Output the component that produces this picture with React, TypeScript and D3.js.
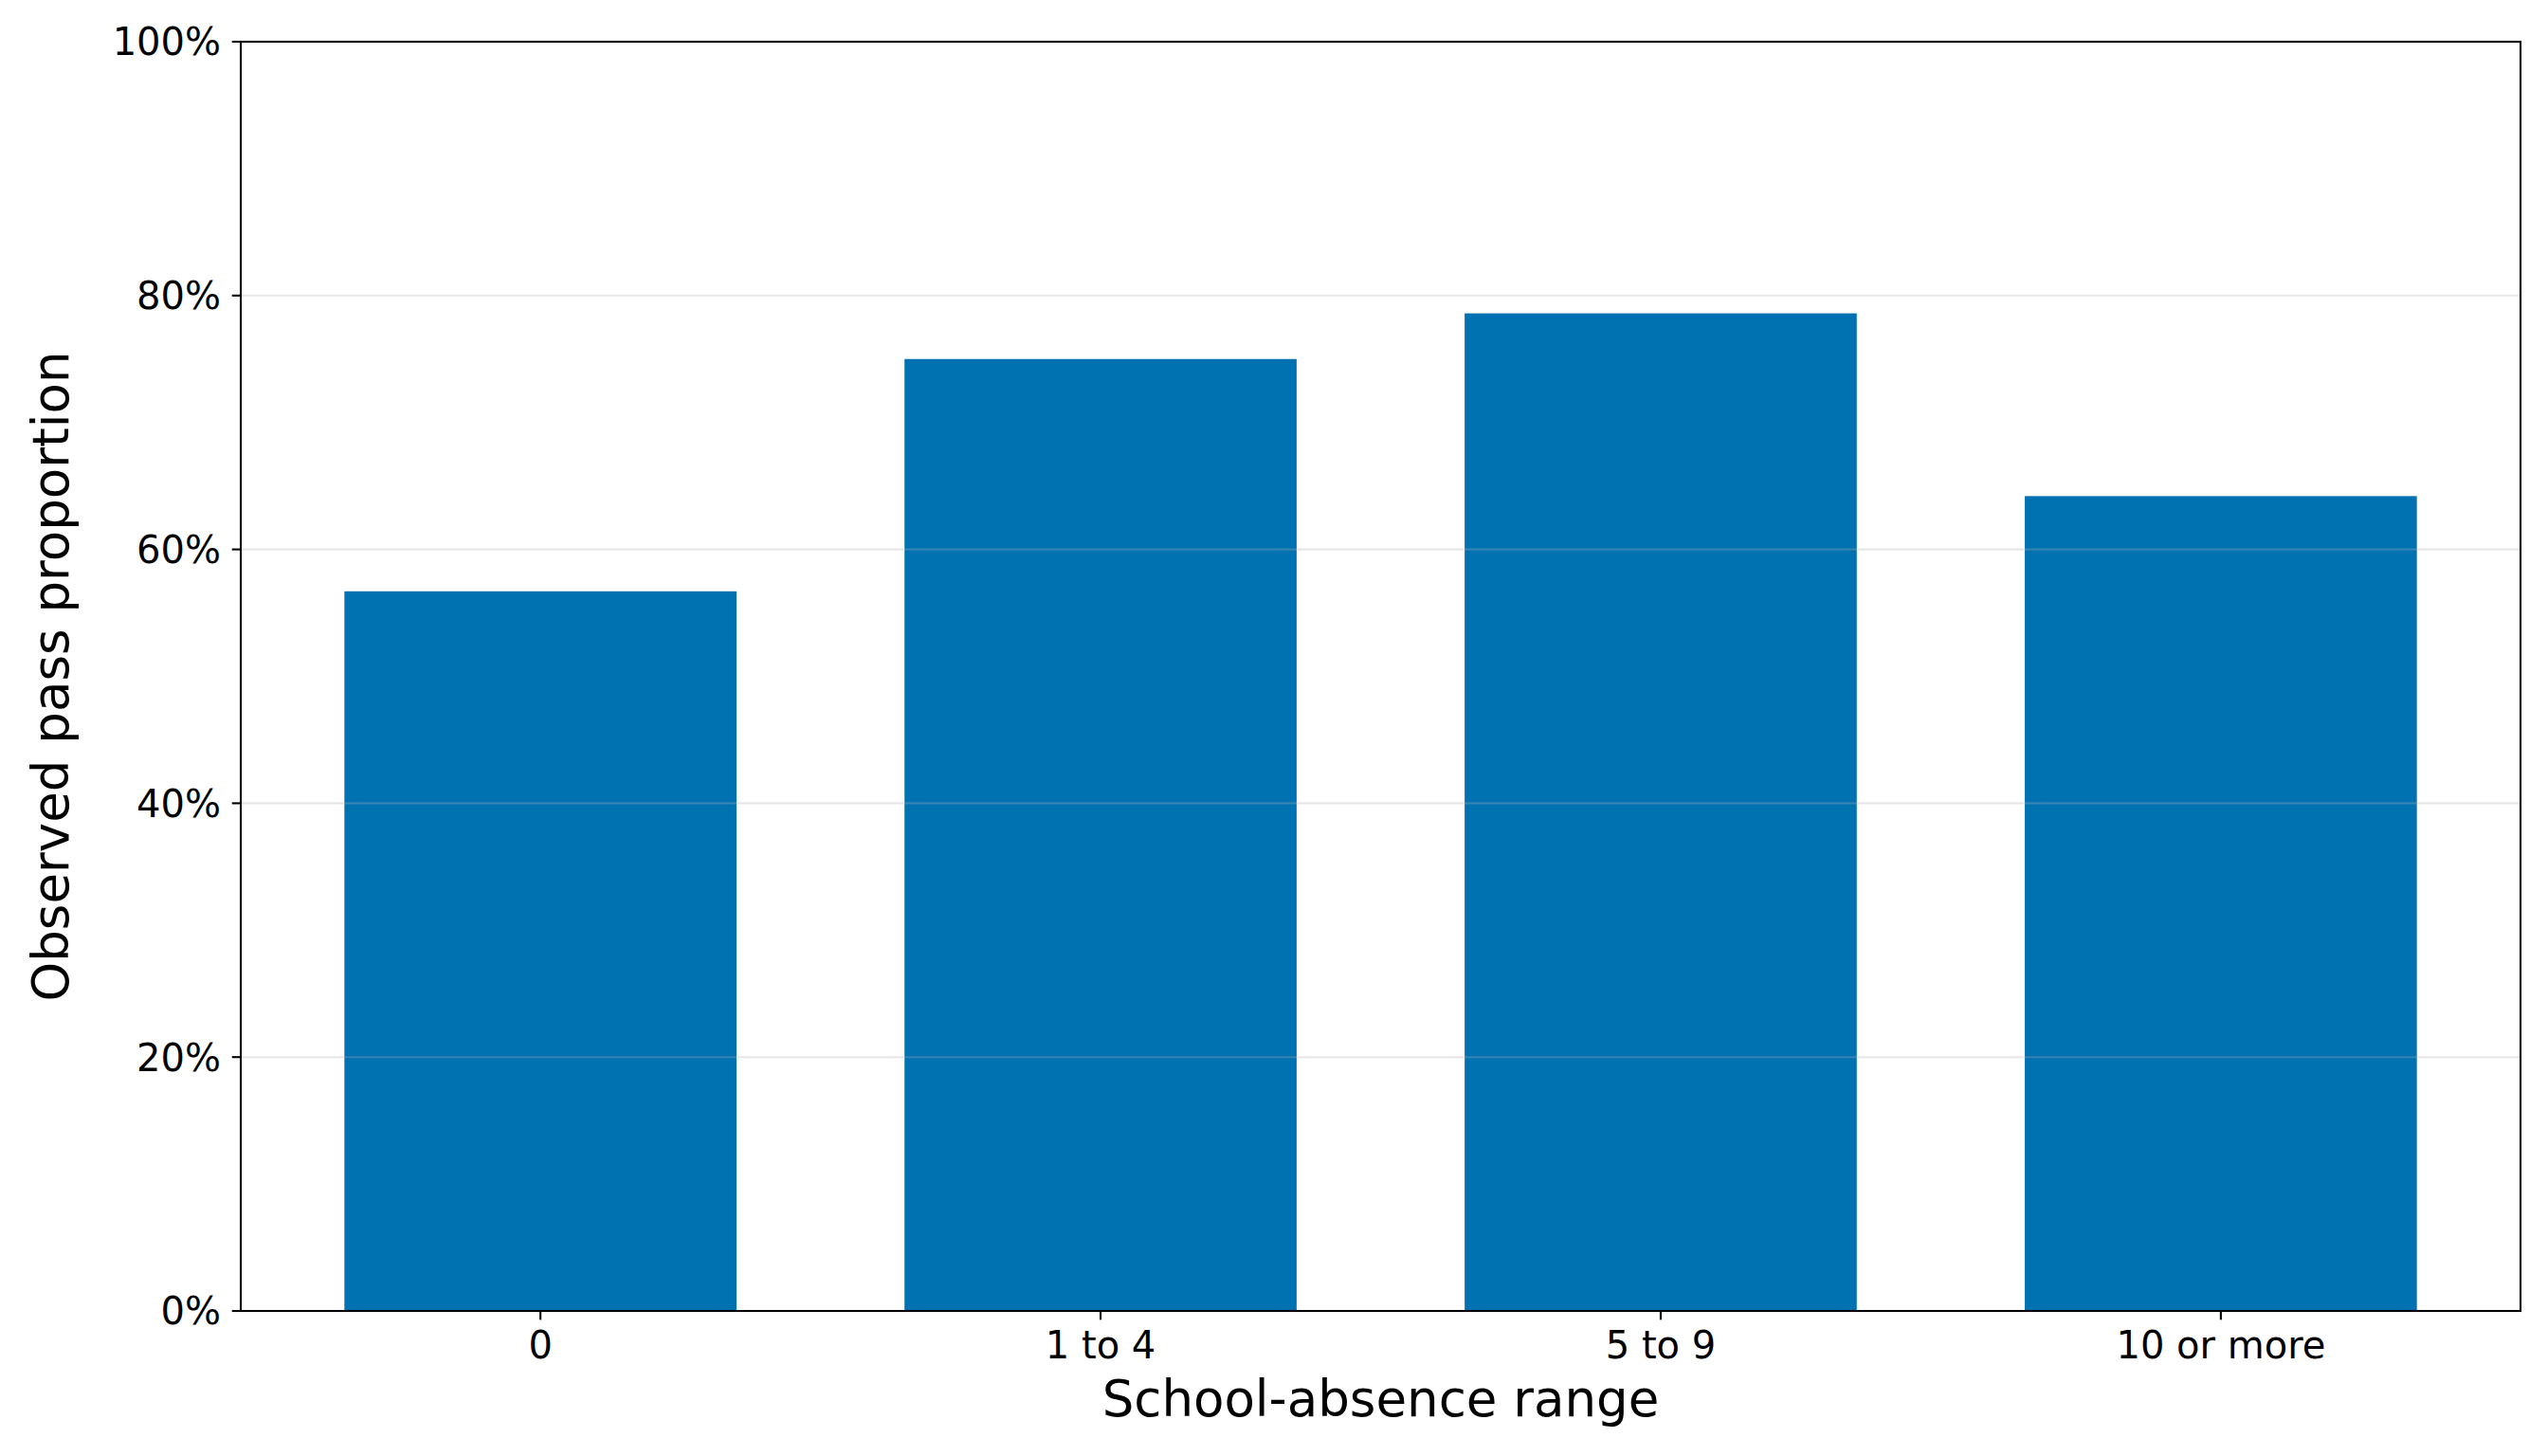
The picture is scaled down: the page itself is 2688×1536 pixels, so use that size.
import React from "react";
import * as d3 from "d3";

// Observed pass proportion by school-absence range
const categories = ["0", "1 to 4", "5 to 9", "10 or more"];
const passRates = [0.567, 0.75, 0.786, 0.642];
const yTicks = [0, 0.2, 0.4, 0.6, 0.8, 1.0];

const WIDTH = 2688;
const HEIGHT = 1536;
const margin = { top: 44, right: 29, bottom: 153, left: 254 };
const BAR_COLOR = "#0072B2";
const FONT = "'DejaVu Sans', sans-serif";

export default function App() {
  const innerWidth = WIDTH - margin.left - margin.right;
  const innerHeight = HEIGHT - margin.top - margin.bottom;

  // band scale mimicking matplotlib bar width 0.7 with 5% axis margins
  const xScale = d3
    .scaleBand<string>()
    .domain(categories)
    .range([0, innerWidth])
    .paddingInner(0.3)
    .paddingOuter(0.185);

  const yScale = d3.scaleLinear().domain([0, 1]).range([innerHeight, 0]);
  const fmt = d3.format(".0%");
  const tickLen = 9.3;
  const lineW = 2.1;

  return (
    <svg
      width={WIDTH}
      height={HEIGHT}
      style={{ position: "absolute", left: 0, top: 0, background: "#fff" }}
      fontFamily={FONT}
    >
      <rect width={WIDTH} height={HEIGHT} fill="#fff" />
      <g transform={`translate(${margin.left},${margin.top})`}>
        {/* bars */}
        {categories.map((c, i) => (
          <rect
            key={c}
            x={xScale(c)}
            y={yScale(passRates[i])}
            width={xScale.bandwidth()}
            height={innerHeight - yScale(passRates[i])}
            fill={BAR_COLOR}
          />
        ))}

        {/* grid drawn above bars, faint */}
        {yTicks.slice(1, -1).map((t) => (
          <line
            key={`g${t}`}
            x1={0}
            x2={innerWidth}
            y1={yScale(t)}
            y2={yScale(t)}
            stroke="#b0b0b0"
            strokeOpacity={0.3}
            strokeWidth={lineW}
          />
        ))}

        {/* frame */}
        <rect
          x={0}
          y={0}
          width={innerWidth}
          height={innerHeight}
          fill="none"
          stroke="#000"
          strokeWidth={lineW}
        />

        {/* y ticks */}
        {yTicks.map((t) => (
          <g key={`y${t}`} transform={`translate(0,${yScale(t)})`}>
            <line x1={-tickLen} x2={0} stroke="#000" strokeWidth={lineW} />
            <text
              x={-21}
              dy="0.36em"
              textAnchor="end"
              fontSize={40}
              fill="#000"
            >
              {fmt(t)}
            </text>
          </g>
        ))}

        {/* x ticks */}
        {categories.map((c) => (
          <g
            key={`x${c}`}
            transform={`translate(${(xScale(c) ?? 0) + xScale.bandwidth() / 2},${innerHeight})`}
          >
            <line y1={0} y2={tickLen} stroke="#000" strokeWidth={lineW} />
            <text y={50} textAnchor="middle" fontSize={40} fill="#000">
              {c}
            </text>
          </g>
        ))}

        {/* axis labels */}
        <text
          x={innerWidth / 2}
          y={innerHeight + 111}
          textAnchor="middle"
          fontSize={53}
          fill="#000"
        >
          School-absence range
        </text>
        <text
          transform={`translate(${72 - margin.left},${innerHeight / 2}) rotate(-90)`}
          textAnchor="middle"
          fontSize={53}
          fill="#000"
        >
          Observed pass proportion
        </text>
      </g>
    </svg>
  );
}
